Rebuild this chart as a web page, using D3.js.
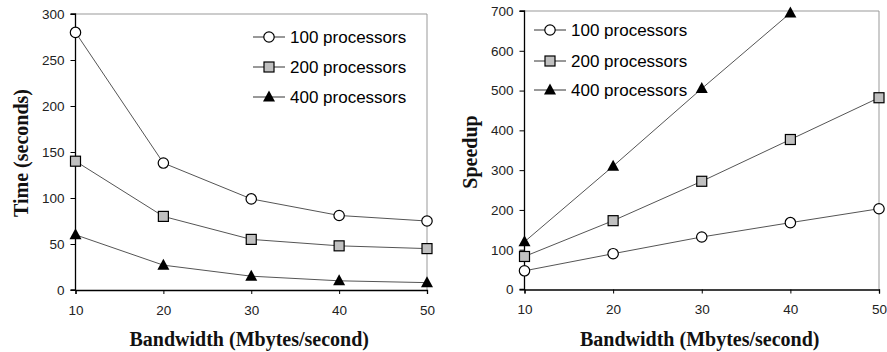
<!DOCTYPE html>
<html>
<head>
<meta charset="utf-8">
<script src="https://cdn.jsdelivr.net/npm/d3@7"></script>
<style>
  body { margin: 0; background: #fff; }
  svg { display: block; }
</style>
</head>
<body>
<script>
// données
const bandwidth = [10, 20, 30, 40, 50];
const seriesNames = ["100 processors", "200 processors", "400 processors"];
const time100 = [280, 138, 99, 81, 75];
const time200 = [140, 80, 55, 48, 45];
const time400 = [60, 27, 15, 10, 8];
const speed100 = [47, 90, 132, 168, 203];
const speed200 = [83, 173, 272, 377, 482];
const speed400 = [120, 310, 505, 695];
const timeTicks = [0, 50, 100, 150, 200, 250, 300];
const speedTicks = [0, 100, 200, 300, 400, 500, 600, 700];

const width = 887;
const height = 352;

const svg = d3.select("body").append("svg")
    .attr("width", width)
    .attr("height", height);

const markers = ["circle", "square", "triangle"];

function drawMarker(g, type, x, y) {
    if (type === "circle") {
        g.append("circle").attr("cx", x).attr("cy", y).attr("r", 5.2)
            .attr("fill", "#fff").attr("stroke", "#000").attr("stroke-width", 1.2);
    } else if (type === "square") {
        g.append("rect").attr("x", x - 5).attr("y", y - 5)
            .attr("width", 10).attr("height", 10)
            .attr("fill", "#c0c0c0").attr("stroke", "#000").attr("stroke-width", 1.2);
    } else {
        g.append("path")
            .attr("d", `M${x},${y - 6.5}L${x + 6},${y + 4.5}L${x - 6},${y + 4.5}Z`)
            .attr("fill", "#000");
    }
}

function drawChart(cfg) {
    const g = svg.append("g");
    const x = d3.scaleLinear().domain([10, 50]).range([cfg.left, cfg.right]);
    const y = d3.scaleLinear().domain([0, cfg.yMax]).range([cfg.bottom, cfg.top]);

    // cadre gris
    g.append("path")
        .attr("d", `M${cfg.left},${cfg.top}H${cfg.right}V${cfg.bottom}`)
        .attr("fill", "none").attr("stroke", "#999").attr("stroke-width", 1);

    const yAxis = g.append("g")
        .attr("transform", `translate(${cfg.left},0)`)
        .call(d3.axisLeft(y).tickValues(cfg.ticks).tickSize(5).tickPadding(6));
    const xAxis = g.append("g")
        .attr("transform", `translate(0,${cfg.bottom})`)
        .call(d3.axisBottom(x).tickValues(bandwidth).tickSize(4).tickPadding(11));
    [yAxis, xAxis].forEach(a => {
        a.select(".domain").attr("stroke", "#000").attr("stroke-width", 1.3);
        a.selectAll(".tick line").attr("stroke", "#000");
        a.selectAll("text")
            .attr("font-family", "Liberation Sans, Arial, sans-serif")
            .attr("font-size", 13.5).attr("fill", "#222");
    });
    yAxis.select(".domain").attr("d", `M-5,${cfg.bottom}H0V${cfg.top}H-5`);

    const line = d3.line().x((d, i) => x(bandwidth[i])).y(d => y(d));
    cfg.series.forEach((vals, k) => {
        g.append("path").datum(vals).attr("d", line)
            .attr("fill", "none").attr("stroke", "#555").attr("stroke-width", 1);
    });
    cfg.series.forEach((vals, k) => {
        vals.forEach((v, i) => drawMarker(g, markers[k], x(bandwidth[i]), y(v)));
    });

    // légende
    seriesNames.forEach((name, k) => {
        const ly = cfg.legY[k];
        g.append("line").attr("x1", cfg.legX).attr("x2", cfg.legX + 32)
            .attr("y1", ly).attr("y2", ly).attr("stroke", "#333").attr("stroke-width", 1);
        drawMarker(g, markers[k], cfg.legX + 16, ly);
        g.append("text").attr("x", cfg.legX + 37).attr("y", ly).attr("dy", "0.35em")
            .attr("font-family", "Liberation Sans, Arial, sans-serif")
            .attr("font-size", 17).attr("fill", "#000").text(name);
    });

    g.append("text")
        .attr("x", (cfg.left + cfg.right) / 2 - 2).attr("y", 346)
        .attr("text-anchor", "middle")
        .attr("font-family", "Liberation Serif, serif").attr("font-weight", "bold")
        .attr("font-size", 20).attr("fill", "#111")
        .text("Bandwidth (Mbytes/second)");
    g.append("text")
        .attr("transform", `translate(${cfg.titleX},${cfg.titleY}) rotate(-90)`)
        .attr("text-anchor", "middle")
        .attr("font-family", "Liberation Serif, serif").attr("font-weight", "bold")
        .attr("font-size", 20).attr("fill", "#111")
        .text(cfg.title);
}

drawChart({
    left: 75.5, right: 427, top: 14, bottom: 290, yMax: 300, ticks: timeTicks,
    series: [time100, time200, time400],
    legX: 253, legY: [37, 67, 97],
    title: "Time (seconds)", titleX: 28, titleY: 153
});

drawChart({
    left: 524.5, right: 879, top: 11, bottom: 289.5, yMax: 700, ticks: speedTicks,
    series: [speed100, speed200, speed400],
    legX: 534, legY: [30, 61, 90],
    title: "Speedup", titleX: 477, titleY: 152
});
</script>
</body>
</html>
